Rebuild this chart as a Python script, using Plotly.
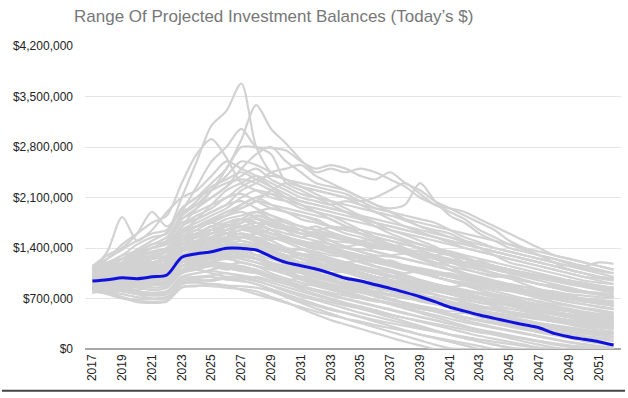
import plotly.graph_objects as go

years = list(range(2017, 2053))
x_tick_years = list(range(2017, 2052, 2))
y_tick_vals = [0, 700000, 1400000, 2100000, 2800000, 3500000, 4200000]
y_tick_text = ["$0", "$700,000", "$1,400,000", "$2,100,000", "$2,800,000", "$3,500,000", "$4,200,000"]
title_text = "Range Of Projected Investment Balances (Today\u2019s $)"

# Projected balance paths, in thousands of dollars (2017..2052)
sim_L1 = [1050,1120,1250,1380,1500,1620,2100,2600,3100,3300,3680,2800,2450,2350,2250,2150,2050,1950,1850,1750,1650,1580,1500,1420,1300,1200,1120,1050,980,900,830,780,720,680,640,600]
sim_L2 = [1000,1080,1150,1250,1350,1400,1700,1950,2200,2500,2900,3380,3050,2850,2620,2450,2500,2450,2500,2450,2350,2250,2100,2000,1900,1800,1650,1550,1450,1380,1300,1250,1200,1150,1100,1050]
sim_L3 = [1100,1250,1450,1600,1750,1850,2300,2700,2910,2650,2300,2200,2100,2050,2000,1900,1850,1750,1650,1550,1450,1400,1300,1250,1150,1050,980,900,850,780,720,650,600,560,520,480]
sim_L4 = [950,1050,1200,1350,1400,1500,1900,2250,2600,2800,3050,2800,2790,2750,2600,2500,2550,2500,2400,2350,2450,2300,2200,2050,1950,1850,1750,1650,1500,1400,1300,1200,1100,1050,1000,950]
sim_L5 = [1100,1350,1830,1500,1650,1900,2100,2200,2400,2600,2500,2400,2250,2100,2000,1900,1800,1700,1600,1500,1420,1350,1280,1200,1100,1020,950,880,820,760,700,650,610,570,540,500]
sim_L6 = [1150,1300,1400,1600,1900,1700,1900,2000,2100,2250,2500,2700,2800,2600,2450,2300,2250,2200,2100,2000,1950,2000,2300,2050,1850,1750,1600,1500,1400,1350,1300,1250,1180,1150,1200,1180]
sim_B1 = [800,760,700,660,650,670,860,880,870,850,830,800,720,650,560,480,400,340,280,220,160,100,50,0,0,0,0,0,0,0,0,0,0,0,0,0]
sim_B2 = [850,800,720,680,690,700,900,920,900,880,870,850,800,720,640,560,490,420,360,300,240,180,120,60,10,0,0,0,0,0,0,0,0,0,0,0]
sim_B3 = [900,870,800,760,740,760,950,980,1000,960,940,900,830,760,690,620,560,500,440,380,320,260,200,150,100,50,0,0,0,0,0,0,0,0,0,0]
sim_B4 = [780,820,850,800,780,800,1000,1050,1080,1050,1000,950,880,800,730,680,620,560,500,450,400,350,300,250,200,150,100,60,20,0,0,0,0,0,0,0]
sim_B5 = [950,900,870,850,820,850,1050,1100,1150,1120,1080,1050,980,900,830,760,700,640,590,540,480,430,380,330,280,230,180,140,100,60,20,0,0,0,0,0]
sim_B6 = [880,900,950,920,900,930,1150,1200,1180,1150,1120,1080,1000,930,860,800,740,690,640,590,540,490,440,400,350,310,270,230,190,150,110,70,40,10,0,0]
sim_B7 = [1000,980,950,970,960,980,1200,1250,1300,1280,1250,1200,1120,1040,960,890,830,770,720,670,620,570,520,470,420,370,330,290,250,210,170,130,90,60,30,10]
sim_B8 = [920,950,1000,1050,1000,1020,1250,1300,1320,1350,1300,1250,1150,1080,1000,950,900,850,800,740,690,640,590,540,490,440,400,360,320,280,240,200,160,120,90,60]
sim_B9 = [960,1000,1020,1000,1050,1080,1300,1350,1400,1450,1420,1380,1300,1220,1150,1100,1040,980,920,860,800,740,690,640,590,540,500,460,420,380,340,300,260,230,200,170]
sim_B10 = [1020,1050,1100,1150,1120,1150,1400,1450,1500,1550,1600,1550,1450,1380,1300,1250,1180,1120,1060,1000,940,880,820,760,700,650,600,550,500,460,420,380,340,300,270,240]
sim_B11 = [1080,1100,1150,1200,1250,1300,1550,1600,1700,1750,1800,1750,1650,1550,1480,1400,1330,1270,1200,1140,1080,1020,960,900,840,780,720,670,620,570,520,480,440,400,370,340]
sim_B12 = [1120,1150,1250,1300,1350,1400,1700,1800,1900,2000,2050,1950,1850,1750,1650,1580,1500,1420,1350,1280,1200,1130,1060,1000,940,880,820,760,710,660,610,570,530,490,460,430]
sim_C1 = [850,880,900,950,900,880,1050,1100,1050,1000,980,1000,950,900,850,820,780,740,700,660,640,600,560,530,480,440,400,370,340,300,260,230,200,170,140,110]
sim_C2 = [900,940,980,1000,1050,1000,1200,1300,1250,1350,1400,1300,1200,1100,1050,980,940,900,860,800,760,720,660,620,580,540,500,470,440,400,360,320,290,260,240,220]
sim_C3 = [1000,1050,1080,1150,1200,1250,1500,1550,1650,1600,1500,1450,1400,1350,1320,1300,1250,1200,1150,1100,1060,1000,950,900,860,820,780,740,700,660,620,580,540,500,470,440]
sim_C4 = [950,920,880,900,950,1000,1250,1350,1450,1500,1550,1600,1650,1600,1550,1500,1450,1400,1380,1350,1300,1250,1200,1150,1100,1050,1000,950,900,860,820,780,740,700,680,650]
sim_C5 = [1050,1100,1200,1250,1300,1350,1650,1750,1850,1950,2100,2200,2150,2050,1950,1900,1850,1800,1750,1700,1650,1600,1550,1500,1450,1400,1350,1300,1250,1200,1150,1100,1050,1000,980,950]
sim_C6 = [1100,1150,1100,1200,1300,1350,1600,1800,2000,2200,2300,2400,2300,2200,2100,2050,2000,2050,2000,1950,1900,1800,1700,1650,1600,1500,1400,1300,1200,1150,1100,1050,1000,950,920,900]
sim_C7 = [1150,1200,1300,1450,1550,1600,1950,2100,2300,2500,2800,2790,2700,2300,2200,2100,2000,1900,1800,1700,1600,1520,1450,1380,1300,1250,1180,1100,1050,1000,950,900,850,800,760,720]
sim_C8 = [1000,1100,1250,1300,1200,1300,1600,1700,1800,1900,1950,2050,2200,2300,2250,2200,2150,2100,2050,2100,2200,2300,2150,2000,1950,1900,1800,1700,1600,1500,1400,1300,1250,1200,1150,1100]
sim_C9 = [980,1020,1080,1100,1150,1200,1450,1550,1650,1700,1750,1800,1700,1650,1600,1550,1500,1480,1450,1400,1380,1350,1300,1250,1200,1150,1100,1050,1000,950,900,850,800,780,750,720]
sim_C10 = [870,850,820,800,780,800,1000,1050,1100,1150,1200,1150,1100,1050,1000,950,900,860,820,780,740,700,680,650,620,580,540,500,470,440,410,380,350,320,300,280]
sim_C11 = [930,960,1000,1020,1000,1050,1300,1350,1400,1380,1350,1300,1250,1180,1120,1080,1050,1000,950,910,870,830,790,750,710,680,640,600,560,520,480,440,400,370,340,310]
sim_C12 = [1050,1080,1120,1180,1250,1280,1500,1600,1700,1800,1850,1900,1800,1700,1600,1550,1450,1400,1350,1300,1280,1250,1200,1150,1100,1050,980,920,870,820,780,740,700,660,630,600]
sim_C13 = [1100,1180,1300,1350,1400,1500,1800,1950,2100,2250,2400,2500,2350,2250,2150,2100,2050,2000,1950,1900,1850,1780,1700,1620,1550,1480,1400,1350,1300,1250,1200,1150,1100,1050,1000,980]
sim_C14 = [1000,1050,1150,1200,1250,1300,1550,1700,1800,1850,2000,2100,2000,1900,1850,1800,1700,1650,1600,1550,1500,1450,1400,1380,1350,1300,1250,1200,1150,1100,1050,1000,950,900,850,820]
sim_C15 = [900,950,1000,1050,1100,1150,1350,1400,1450,1500,1550,1500,1450,1400,1380,1350,1300,1280,1250,1200,1150,1100,1050,1000,950,900,850,800,750,700,650,600,560,520,490,460]
sim_C16 = [820,850,880,900,920,950,1150,1200,1250,1300,1280,1250,1200,1150,1100,1050,1000,950,900,850,800,750,700,650,600,560,520,480,440,400,360,330,300,270,240,210]
sim_C17 = [1000,1020,1000,980,1000,1020,1250,1280,1300,1320,1350,1380,1300,1250,1200,1180,1150,1100,1050,1000,960,920,880,840,800,760,720,690,650,620,590,550,520,480,450,420]
sim_C18 = [1080,1120,1200,1300,1400,1450,1700,1850,1950,2100,2150,2050,1950,1900,1800,1750,1700,1680,1650,1600,1550,1500,1450,1400,1350,1280,1200,1150,1100,1050,1000,950,900,870,840,800]
sim_C19 = [950,1000,1050,1100,1080,1100,1350,1450,1550,1650,1700,1650,1600,1550,1450,1400,1350,1300,1250,1200,1150,1100,1050,1000,950,900,870,830,800,760,720,690,650,620,590,560]
sim_C20 = [1150,1200,1250,1350,1450,1550,1850,2000,2200,2400,2600,2550,2450,2350,2300,2250,2200,2150,2050,1950,1900,1850,1800,1750,1650,1550,1480,1400,1350,1300,1250,1200,1150,1100,1050,1000]
sim_C21 = [870,900,950,1000,1050,1000,1200,1250,1300,1350,1300,1250,1200,1100,1000,940,880,830,780,730,680,630,580,530,480,430,390,350,310,270,230,190,150,110,80,50]
sim_C22 = [940,900,880,860,850,870,1100,1150,1200,1250,1200,1150,1050,980,920,870,820,770,720,680,640,600,560,520,480,440,400,360,330,300,270,240,210,180,160,140]
sim_C23 = [1020,1080,1150,1200,1150,1200,1450,1500,1550,1600,1650,1700,1650,1550,1500,1450,1400,1350,1300,1250,1200,1150,1100,1060,1020,980,940,900,860,820,780,740,700,680,660,640]
sim_C24 = [990,1000,1050,1080,1100,1120,1350,1400,1500,1550,1600,1550,1500,1400,1300,1250,1200,1150,1100,1050,1000,960,920,880,840,800,760,720,680,640,600,560,520,480,450,420]
sim_D1 = [820,780,720,650,640,660,850,870,900,880,820,760,700,640,580,520,470,420,380,330,290,250,200,160,120,80,40,0,0,0,0,0,0,0,0,0]
sim_D2 = [870,840,800,760,700,720,920,960,940,980,950,900,820,740,660,600,540,500,450,400,360,320,280,240,200,170,130,100,70,40,10,0,0,0,0,0]
sim_D3 = [1000,1060,1120,1080,1150,1200,1450,1480,1420,1500,1550,1480,1380,1300,1260,1200,1140,1100,1060,1000,950,920,880,830,780,740,700,650,620,580,540,500,480,450,420,400]
sim_D4 = [1060,1120,1200,1280,1330,1380,1650,1700,1780,1850,1900,1820,1750,1680,1600,1620,1580,1500,1450,1420,1380,1320,1250,1200,1150,1100,1060,1020,980,940,900,860,830,800,760,730]
sim_D5 = [900,880,920,950,980,1000,1200,1220,1280,1350,1320,1260,1180,1120,1080,1020,960,920,880,840,800,770,740,700,660,620,590,560,520,490,460,430,400,380,350,330]
sim_D6 = [960,1020,1100,1150,1250,1350,1600,1700,1750,1850,1950,2050,2000,1950,1900,1850,1800,1700,1650,1600,1550,1480,1400,1350,1300,1250,1200,1150,1100,1060,1020,980,950,920,880,850]
sim_D7 = [1120,1180,1250,1320,1400,1500,1850,2050,2250,2350,2450,2350,2250,2150,2050,2000,1950,1900,1850,1800,1750,1700,1650,1600,1550,1500,1450,1400,1350,1300,1250,1200,1150,1120,1080,1050]
sim_D8 = [780,800,760,720,700,720,900,940,960,1000,980,940,880,820,760,700,650,600,560,520,470,430,390,350,310,270,230,200,170,140,110,80,50,30,10,0]
sim_D9 = [1040,1000,980,1020,1080,1100,1350,1400,1380,1420,1450,1400,1350,1280,1200,1150,1100,1060,1000,960,920,880,840,800,760,720,680,640,600,560,520,480,450,420,390,360]
sim_D10 = [930,980,1050,1100,1180,1250,1500,1600,1650,1700,1800,1750,1650,1550,1480,1420,1380,1320,1260,1220,1180,1120,1080,1040,1000,960,920,880,840,800,760,720,690,660,630,600]
sim_D11 = [1150,1120,1150,1200,1180,1250,1500,1550,1600,1650,1700,1750,1720,1680,1650,1600,1560,1520,1480,1440,1400,1350,1300,1260,1220,1180,1140,1100,1060,1020,980,940,900,860,820,780]
sim_D12 = [850,870,900,930,980,1020,1250,1300,1350,1400,1450,1400,1300,1200,1100,1020,950,880,820,760,700,640,580,520,460,400,350,300,260,220,180,140,100,70,40,20]
sim_D13 = [1000,1080,1200,1300,1400,1480,1750,1800,1900,2000,2200,2300,2450,2500,2550,2400,2300,2200,2100,2000,1900,1800,1750,1700,1650,1600,1550,1500,1450,1400,1350,1300,1250,1200,1150,1100]
sim_D14 = [960,940,920,940,980,1000,1250,1300,1350,1300,1280,1250,1150,1050,980,920,860,800,740,680,620,560,500,440,380,320,260,200,150,100,60,20,0,0,0,0]
sim_D15 = [1080,1150,1250,1350,1450,1500,1800,1900,2000,2100,2250,2350,2400,2350,2250,2200,2150,2100,2000,1900,1800,1700,1620,1550,1480,1400,1350,1300,1250,1200,1150,1100,1050,1000,950,900]
sim_D16 = [880,920,960,1000,1020,1080,1300,1380,1450,1500,1550,1600,1550,1480,1400,1330,1260,1200,1140,1080,1020,960,900,850,800,750,700,650,600,560,520,480,440,410,380,350]
sim_D17 = [1020,1000,1050,1100,1150,1200,1450,1500,1550,1650,1750,1850,1800,1750,1700,1650,1600,1550,1500,1450,1400,1350,1300,1250,1200,1150,1100,1050,1000,950,900,850,820,790,760,730]
sim_D18 = [940,960,1000,1050,1100,1130,1380,1450,1500,1480,1450,1420,1350,1300,1250,1200,1150,1100,1050,1000,950,900,860,820,780,740,700,660,620,580,540,500,460,430,400,370]
sim_D19 = [800,830,860,880,900,920,1100,1150,1200,1180,1150,1100,1020,950,880,820,760,700,650,600,550,500,450,400,350,300,260,220,180,140,100,60,30,0,0,0]
sim_D20 = [1100,1150,1180,1220,1280,1350,1600,1700,1800,1900,2000,2100,2150,2100,2050,2000,1950,1900,1820,1750,1700,1650,1600,1550,1500,1450,1400,1350,1300,1250,1200,1150,1100,1050,1000,960]
sim_D21 = [980,1010,1040,1060,1100,1150,1400,1450,1480,1520,1560,1520,1450,1380,1320,1270,1220,1170,1120,1070,1020,970,920,870,820,770,720,680,640,600,560,520,480,450,420,390]
sim_D22 = [1060,1100,1150,1100,1150,1180,1400,1500,1600,1700,1800,1900,1950,1900,1850,1780,1700,1650,1600,1550,1500,1450,1400,1350,1300,1250,1200,1150,1100,1060,1020,980,940,900,860,820]
sim_D23 = [900,950,1000,1050,1050,1100,1350,1400,1450,1550,1600,1550,1450,1350,1250,1180,1120,1060,1000,940,880,820,760,700,640,580,520,470,420,380,340,300,260,230,200,170]
sim_D24 = [1150,1250,1380,1500,1600,1650,1950,2100,2200,2300,2350,2300,2200,2100,2000,1950,1900,1850,1800,1750,1700,1650,1600,1550,1500,1450,1400,1350,1300,1250,1200,1150,1100,1050,1000,980]
sim_D25 = [850,820,800,780,760,780,980,1000,1020,1050,1020,980,920,860,800,740,680,620,560,500,440,380,320,260,200,150,100,60,20,0,0,0,0,0,0,0]
sim_D26 = [1000,1050,1100,1150,1200,1250,1500,1550,1600,1650,1700,1650,1600,1550,1500,1450,1400,1350,1300,1250,1200,1150,1100,1050,1000,950,900,860,820,780,740,700,660,620,580,550]
sim_D27 = [950,1000,1030,1060,1100,1150,1400,1480,1550,1600,1650,1700,1750,1700,1650,1600,1550,1500,1450,1400,1380,1350,1320,1280,1240,1200,1160,1120,1080,1040,1000,960,920,880,850,820]
sim_D28 = [1020,1050,1100,1100,1050,1080,1300,1350,1400,1450,1500,1450,1400,1350,1300,1250,1200,1150,1100,1050,1000,950,900,850,800,760,720,680,640,600,560,520,480,450,420,390]
sim_E1 = [900,960,900,980,1050,990,1150,1250,1200,1300,1250,1200,1150,1080,1000,1050,980,900,850,870,800,740,700,720,650,600,560,580,520,470,450,400,360,330,300,280]
sim_E2 = [1000,950,1020,1080,1000,1060,1300,1250,1380,1450,1380,1300,1320,1250,1150,1120,1050,1080,1000,930,900,850,800,820,760,700,650,620,600,540,500,480,440,400,380,350]
sim_E3 = [950,1000,1080,1020,1100,1160,1400,1500,1450,1550,1650,1600,1520,1560,1450,1380,1400,1320,1250,1200,1230,1150,1080,1020,1050,980,900,860,880,820,760,720,740,680,640,620]
sim_E4 = [860,900,860,820,880,920,1100,1180,1150,1100,1150,1080,1000,950,980,900,830,780,800,730,680,640,600,560,520,540,480,430,400,380,340,300,280,250,220,200]
sim_E5 = [1080,1150,1100,1200,1280,1220,1500,1650,1600,1750,1800,1700,1750,1650,1550,1600,1500,1420,1450,1350,1300,1320,1250,1180,1200,1120,1050,1000,1020,960,900,880,850,800,780,760]
sim_E6 = [920,880,940,900,960,1000,1200,1280,1350,1300,1380,1420,1350,1280,1300,1220,1150,1180,1100,1050,1000,1020,950,900,860,880,820,760,720,700,660,620,600,560,540,500]
sim_E7 = [980,1040,1000,1060,1120,1100,1350,1420,1500,1480,1550,1500,1420,1350,1380,1300,1250,1200,1220,1150,1100,1050,1080,1000,950,920,880,900,840,800,760,720,700,660,640,600]
sim_E8 = [840,870,900,860,900,950,1150,1150,1220,1260,1200,1150,1100,1040,980,1000,940,880,840,800,820,760,700,660,620,640,580,540,500,470,440,420,380,350,330,300]
sim_E9 = [1030,1080,1150,1120,1200,1260,1550,1600,1700,1650,1750,1850,1780,1700,1650,1700,1620,1550,1500,1520,1450,1380,1350,1300,1320,1250,1180,1150,1100,1050,1020,980,950,900,880,850]
sim_E10 = [900,930,980,950,1000,1040,1250,1320,1280,1350,1420,1380,1300,1240,1180,1200,1120,1060,1020,980,1000,940,880,840,800,760,780,720,680,640,600,580,540,500,480,450]
sim_E11 = [1000,1060,1100,1150,1120,1180,1450,1550,1520,1600,1700,1680,1600,1520,1450,1400,1420,1350,1280,1220,1200,1150,1100,1050,1000,1020,960,900,860,820,800,760,720,700,680,660]
sim_E12 = [960,920,980,1020,1060,1100,1300,1350,1420,1380,1450,1400,1320,1260,1200,1150,1100,1120,1060,1000,950,900,920,860,800,760,720,680,700,640,600,560,540,500,470,440]
sim_E13 = [880,900,940,980,950,990,1200,1260,1300,1350,1300,1250,1180,1120,1060,1000,1020,960,900,850,800,760,720,680,640,600,570,540,510,480,450,420,390,360,340,320]
sim_E14 = [1100,1050,1120,1180,1250,1300,1550,1650,1750,1700,1800,1900,1850,1780,1700,1650,1680,1600,1550,1480,1420,1450,1380,1300,1250,1200,1220,1150,1100,1050,1000,960,920,900,870,840]
sim_E15 = [820,860,830,880,920,900,1080,1120,1180,1150,1100,1060,1000,940,880,900,830,770,720,680,640,600,560,520,480,500,440,400,360,330,300,270,240,210,190,170]
sim_E16 = [1060,1020,1080,1140,1200,1240,1500,1580,1650,1720,1680,1620,1560,1500,1450,1480,1400,1340,1300,1260,1200,1160,1120,1080,1040,1000,960,920,900,860,820,800,760,740,720,700]

# Highlighted path, in thousands of dollars
blue_path = [942,960,988,975,1000,1026,1271,1320,1349,1396,1395,1372,1280,1200,1155,1109,1049,980,943,890,841,785,725,656,578,525,471,425,379,337,295,217,171,135,101,55]

gray_paths = [
    sim_B1, sim_B2, sim_B3, sim_B4, sim_B5, sim_B6, sim_B7, sim_B8, sim_B9, sim_B10, sim_B11, sim_B12,
    sim_C1, sim_C2, sim_C3, sim_C4, sim_C5, sim_C6, sim_C7, sim_C8, sim_C9, sim_C10, sim_C11, sim_C12,
    sim_C13, sim_C14, sim_C15, sim_C16, sim_C17, sim_C18, sim_C19, sim_C20, sim_C21, sim_C22, sim_C23, sim_C24,
    sim_D1, sim_D2, sim_D3, sim_D4, sim_D5, sim_D6, sim_D7, sim_D8, sim_D9, sim_D10, sim_D11, sim_D12, sim_D13, sim_D14,
    sim_D15, sim_D16, sim_D17, sim_D18, sim_D19, sim_D20, sim_D21, sim_D22, sim_D23, sim_D24, sim_D25, sim_D26, sim_D27, sim_D28,
    sim_E1, sim_E2, sim_E3, sim_E4, sim_E5, sim_E6, sim_E7, sim_E8, sim_E9, sim_E10, sim_E11, sim_E12, sim_E13, sim_E14,
    sim_E15, sim_E16,
    sim_L1, sim_L2, sim_L3, sim_L4, sim_L5, sim_L6,
]

fig = go.Figure()
for path in gray_paths:
    fig.add_trace(go.Scatter(
        x=years, y=[v * 1000 for v in path], mode="lines",
        line=dict(color="#d2d2d2", width=2.2, shape="spline", smoothing=0.8),
        showlegend=False, hoverinfo="skip",
    ))

fig.add_trace(go.Scatter(
    x=years, y=[v * 1000 for v in blue_path], mode="lines",
    line=dict(color="#1111dd", width=3, shape="spline", smoothing=0.8),
    showlegend=False,
))

fig.update_layout(
    width=628, height=398,
    margin=dict(l=85, r=7, t=46, b=49, autoexpand=False),
    paper_bgcolor="white", plot_bgcolor="white",
    font=dict(family="Liberation Sans, Arial, sans-serif", size=12, color="#222222"),
    title=dict(text=title_text, xref="container", yref="container",
               x=74 / 628, xanchor="left", y=1 - 16 / 398, yanchor="middle",
               font=dict(size=17, color="#777777")),
    xaxis=dict(range=[2016.5, 2052.5], tickmode="array", tickvals=x_tick_years,
               ticktext=[str(y) for y in x_tick_years], tickangle=-90,
               showgrid=False, zeroline=False, showline=False, ticks="",
               ticklabelstandoff=2, automargin=False, fixedrange=True),
    yaxis=dict(range=[0, 4200000], tickmode="array", tickvals=y_tick_vals,
               ticktext=y_tick_text,
               showgrid=True, gridcolor="#e4e4e4", gridwidth=1,
               zeroline=True, zerolinecolor="#a8a8a8", zerolinewidth=1.5,
               showline=False, ticks="", ticklabelstandoff=11, automargin=False,
               fixedrange=True),
    shapes=[dict(type="line", xref="paper", yref="paper", layer="above",
                 x0=-0.155, x1=1.0075, y0=-0.1376, y1=-0.1376,
                 line=dict(color="#444444", width=2))],
)

fig.write_html(
    "out.html",
    config={"displayModeBar": False},
    post_script="document.body.style.margin='0';document.body.style.overflow='hidden';",
)
